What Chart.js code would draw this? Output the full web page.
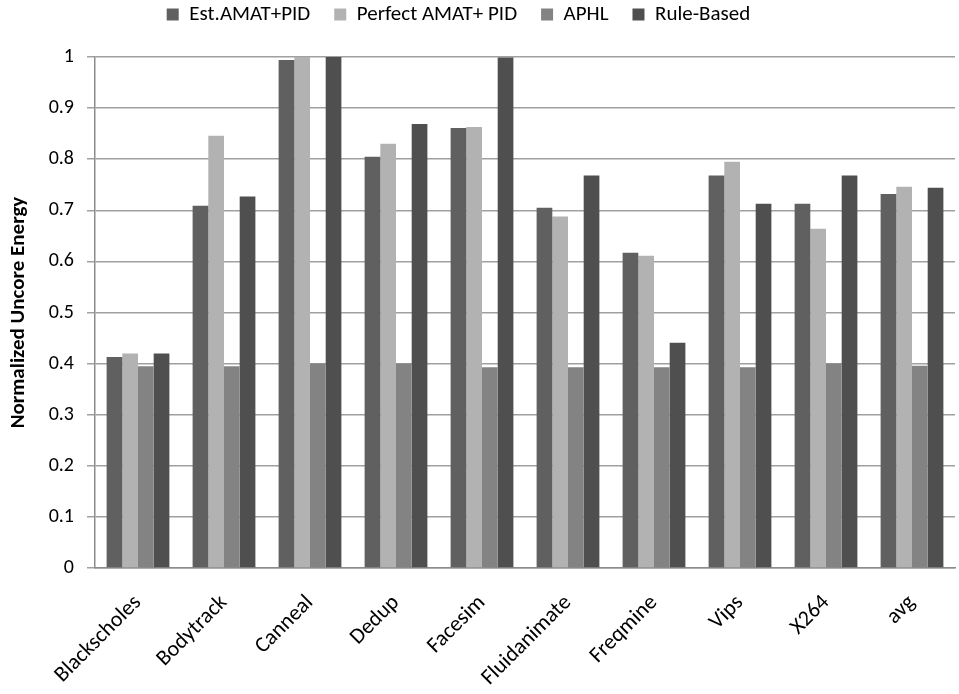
<!DOCTYPE html>
<html>
<head>
<meta charset="utf-8">
<script src="https://cdn.jsdelivr.net/npm/chart.js@4/dist/chart.umd.min.js"></script>
<style>
  html, body { margin: 0; padding: 0; background: #ffffff; }
  #wrap { width: 959px; height: 694px; }
</style>
</head>
<body>
<div id="wrap"><canvas id="c" width="959" height="694"></canvas></div>
<script>
// Benchmarks on the x axis
const categories = ['Blackscholes', 'Bodytrack', 'Canneal', 'Dedup', 'Facesim',
  'Fluidanimate', 'Freqmine', 'Vips', 'X264', 'avg'];

// Normalized uncore energy for each policy
const estAmatPid     = [0.413, 0.709, 0.994, 0.805, 0.861, 0.705, 0.617, 0.768, 0.713, 0.732];
const perfectAmatPid = [0.420, 0.846, 1.000, 0.830, 0.863, 0.688, 0.611, 0.795, 0.664, 0.746];
const aphl           = [0.395, 0.395, 0.400, 0.400, 0.393, 0.393, 0.393, 0.393, 0.400, 0.396];
const ruleBased      = [0.420, 0.727, 1.000, 0.869, 0.999, 0.768, 0.441, 0.713, 0.768, 0.744];

const yTicks = [0, 0.1, 0.2, 0.3, 0.4, 0.5, 0.6, 0.7, 0.8, 0.9, 1];

const FONT = 'Carlito, Lato, "Open Sans", sans-serif';

// Fine-tune the legend row: room below it and its horizontal placement
const legendGap = {
  id: 'legendGap',
  beforeInit(chart) {
    const fit = chart.legend.fit;
    chart.legend.fit = function () {
      fit.call(this);
      this.height += 22;
    };
  },
  afterLayout(chart) {
    chart.legend.left -= 22;
    chart.legend.right -= 22;
  }
};

new Chart(document.getElementById('c'), {
  type: 'bar',
  data: {
    labels: categories,
    datasets: [
      { label: 'Est.AMAT+PID', data: estAmatPid, backgroundColor: '#606060' },
      { label: 'Perfect AMAT+ PID', data: perfectAmatPid, backgroundColor: '#b2b2b2' },
      { label: 'APHL', data: aphl, backgroundColor: '#838383' },
      { label: 'Rule-Based', data: ruleBased, backgroundColor: '#4f4f4f' }
    ]
  },
  plugins: [legendGap],
  options: {
    responsive: false,
    animation: false,
    layout: { padding: { left: 6, right: 4, top: -20, bottom: 0 } },
    datasets: { bar: { categoryPercentage: 0.73, barPercentage: 1.0 } },
    plugins: {
      legend: {
        position: 'top',
        labels: {
          font: { family: FONT, size: 21 },
          color: '#000',
          boxWidth: 12,
          boxHeight: 12,
          padding: 24
        }
      },
      tooltip: { enabled: false }
    },
    scales: {
      x: {
        grid: { display: false, drawTicks: false },
        border: { display: true, color: '#8c8c8c', width: 1.5 },
        ticks: {
          font: { family: FONT, size: 22 },
          color: '#000',
          minRotation: 45,
          maxRotation: 45,
          padding: 22,
          autoSkip: false
        },
        afterFit: (s) => { s.height = 126; }
      },
      y: {
        min: 0,
        max: 1,
        afterBuildTicks: (s) => { s.ticks = yTicks.map(v => ({ value: v })); },
        grid: { color: '#a0a0a0', lineWidth: 1.5, tickLength: 8 },
        border: { display: true, color: '#8c8c8c', width: 1.5 },
        ticks: {
          font: { family: FONT, size: 20 },
          color: '#000',
          padding: 13,
          callback: (v) => String(Math.round(v * 10) / 10)
        },
        title: {
          display: true,
          text: 'Normalized Uncore Energy',
          font: { family: FONT, size: 21, weight: 'bold' },
          color: '#000',
          padding: { top: 0, bottom: 2 }
        },
        afterFit: (s) => { s.width = 89; }
      }
    }
  }
});
</script>
</body>
</html>
